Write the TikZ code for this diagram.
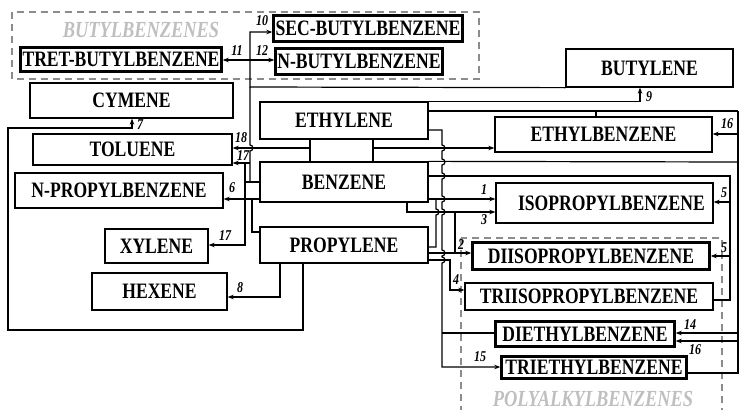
\documentclass[tikz,border=0pt]{standalone}
\usepackage{fontspec}
\setmainfont{Liberation Serif}[FakeStretch=0.8]
\usetikzlibrary{arrows.meta}
\newcommand{\hopd}{arc[start angle=90,end angle=-90,radius=3pt]}
\newcommand{\hopu}{arc[start angle=-90,end angle=90,radius=3pt]}

\begin{document}
\begin{tikzpicture}[x=1pt,y=-1pt,line width=1.2pt,
	box/.style={draw,line width=1.3pt,inner sep=0pt,font=\fontsize{22}{22}\selectfont\bfseries},
	dbox/.style={box,line width=1.4pt},
	arr/.style={-{Stealth[length=6pt,width=4.5pt]}},
	arrs/.style={{Stealth[length=6pt,width=4.5pt]}-{Stealth[length=6pt,width=4.5pt]}},
	num/.style={inner sep=0pt,font=\fontsize{15}{15}\selectfont\bfseries\itshape},
	grp/.style={draw=black!45,line width=1.3pt,dash pattern=on 7pt off 5pt},
	grplbl/.style={inner sep=0pt,text=black!25,font=\fontsize{23}{23}\selectfont\bfseries\itshape}]
	\useasboundingbox (0,0) rectangle (740,410);
	% groups
	\draw[grp] (12,12) rectangle (479,79);
	\draw[grp] (461,238) rectangle (722,430);
	\node[grplbl] (gbut) at (141,30) {BUTYLBENZENES};
	\node[grplbl] (gpoly) at (593,399) {POLYALKYLBENZENES};
	% boxes
	\node[dbox,minimum width=190pt,minimum height=27pt] (secbut) at (368,28.5) {SEC-BUTYLBENZENE};
	\node[dbox,minimum width=202pt,minimum height=25pt] (tret) at (121,59.5) {TRET-BUTYLBENZENE};
	\node[dbox,minimum width=168pt,minimum height=27pt] (nbut) at (359,61.5) {N-BUTYLBENZENE};
	\node[box,minimum width=203pt,minimum height=35pt] (cym) at (131.5,100.5) {CYMENE};
	\node[box,minimum width=167pt,minimum height=38pt] (butyl) at (649.5,68) {BUTYLENE};
	\node[box,minimum width=168pt,minimum height=37pt] (ethyl) at (344,120.5) {ETHYLENE};
	\node[box,minimum width=217pt,minimum height=35pt] (ebz) at (603.5,134.5) {ETHYLBENZENE};
	\node[box,minimum width=199pt,minimum height=31pt] (tol) at (132.5,149.5) {TOLUENE};
	\node[box,minimum width=208pt,minimum height=35pt] (npb) at (119,190.5) {N-PROPYLBENZENE};
	\node[box,minimum width=168pt,minimum height=40pt] (benz) at (344,182) {BENZENE};
	\node[box,minimum width=217pt,minimum height=40pt] (ipb) at (604.5,203) {\hspace{14pt}ISOPROPYLBENZENE};
	\node[box,minimum width=103pt,minimum height=34pt] (xyl) at (156.5,246) {XYLENE};
	\node[box,minimum width=168pt,minimum height=36pt] (prop) at (344,245) {PROPYLENE};
	\node[box,minimum width=135pt,minimum height=37pt] (hex) at (159.5,291.5) {HEXENE};
	\node[dbox,minimum width=238pt,minimum height=28pt] (dipb) at (591,256) {DIISOPROPYLBENZENE};
	\node[box,minimum width=248pt,minimum height=27pt] (tipb) at (589,296.5) {TRIISOPROPYLBENZENE};
	\node[dbox,minimum width=180pt,minimum height=26pt] (deb) at (585,334) {DIETHYLBENZENE};
	\node[dbox,minimum width=186pt,minimum height=23pt] (teb) at (594,367.5) {TRIETHYLBENZENE};
	% inner line of the framed boxes
	\foreach \b in {secbut,tret,nbut,dipb,deb,teb}
		\draw[line width=0.5pt] ([shift={(2.2,2.2)}]\b.north west) rectangle ([shift={(-2.2,-2.2)}]\b.south east);
	% junctions
	\coordinate (jb) at (250,87);
	\coordinate (ml) at (310,148);
	\coordinate (mr) at (373,148);
	\coordinate (jr) at (738,111);
	\coordinate (jf) at (730,176);
	% butylene to butylbenzenes
	\draw[arr] (butyl.south west) -- (jb) -- (250,32) -- (secbut.west |- 0,32);
	\draw[arrs] (tret.east |- 0,60) -- (nbut.west |- 0,60);
	\draw (jb) -- (250,145) \hopd -- (250,182);
	% benzene left side
	\draw (benz.west |- 0,182) -- (245,182) -- (245,199) -- (benz.west |- 0,199);
	\draw[arr] (245,199) -- (npb.east |- 0,199);
	\draw (252,199) -- (252,232) -- (prop.west |- 0,232);
	\draw[arr] (250,163) -- (tol.east |- 0,163);
	\draw[arr] (245,163) -- (245,245) -- (xyl.east |- 0,245);
	% ethylene + benzene
	\draw (ethyl.south -| ml) -- (benz.north -| ml);
	\draw (ethyl.south -| mr) -- (benz.north -| mr);
	\draw[arr] (ml) -- (tol.east |- ml);
	\draw[arr] (mr) -- (ebz.west |- mr);
	\draw[arr] (ethyl.north east) -| (butyl.south -| 640,0);
	\draw (ethyl.east |- jr) -- (jr);
	\draw (ebz.north -| 596,0) -- (596,111);
	\draw (jr) -- (738,373) -- (teb.east |- 0,373);
	\draw[arr] (738,134) -- (ebz.east |- 0,134);
	\draw[arr] (738,333) -- (deb.east |- 0,333);
	\draw[arr] (738,341) -- (deb.east |- 0,341);
	\draw (benz.north east) -- (738,162);
	\draw (benz.east |- jf) -- (jf) -- (730,300) -- (tipb.east |- 0,300);
	\draw[arr] (730,202) -- (ipb.east |- 0,202);
	\draw[arr] (730,256) -- (dipb.east |- 0,256);
	\draw[arr] (ethyl.east |- 0,130) -- (442,130) -- (442,145) \hopd -- (442,159) \hopd -- (442,173) \hopd -- (442,196) \hopd -- (442,209) \hopd -- (442,250) \hopd -- (442,257) \hopd -- (442,367) -- (teb.west |- 0,367);
	\draw (442,333) -- (deb.west |- 0,333);
	% propylene
	\draw[arr] (benz.east |- 0,199) -- (ipb.west |- 0,199);
	\draw (prop.east |- 0,247) -- (436,247) -- (436,215) \hopu -- (436,199);
	\draw[arr] (benz.south -| 407,0) -- (407,212) -- (ipb.west |- 0,212);
	\draw (455,212) -- (455,253);
	\draw[arr] (prop.east |- 0,253) -- (dipb.west |- 0,253);
	\draw[arr] (prop.east |- 0,260) -- (450,260) -- (450,290) -- (tipb.west |- 0,290);
	\draw[arr] (prop.south -| 280,0) -- (280,297) -- (hex.east |- 0,297);
	\draw[arr] (prop.south -| 303,0) -- (303,330) -- (8,330) -- (8,128) -- (132,128) -- (cym.south -| 132,0);
	% numbers
	\node[num] (n10) at (262,21) {10};
	\node[num] (n11) at (237,51) {11};
	\node[num] (n12) at (262,51) {12};
	\node[num] (n9) at (649,97) {9};
	\node[num] (n16a) at (727,124) {16};
	\node[num] (n7) at (140,125) {7};
	\node[num] (n18) at (241,138) {18};
	\node[num] (n17a) at (243,156) {17};
	\node[num] (n6) at (232,188) {6};
	\node[num] (n17b) at (225,236) {17};
	\node[num] (n8) at (240,288) {8};
	\node[num] (n1) at (484,190) {1};
	\node[num] (n3) at (484,220) {3};
	\node[num] (n5a) at (724,193) {5};
	\node[num] (n5b) at (724,248) {5};
	\node[num] (n2) at (461,245) {2};
	\node[num] (n4) at (456,280) {4};
	\node[num] (n14) at (690,325) {14};
	\node[num] (n16b) at (695,350) {16};
	\node[num] (n15) at (480,357) {15};
\end{tikzpicture}
\end{document}
